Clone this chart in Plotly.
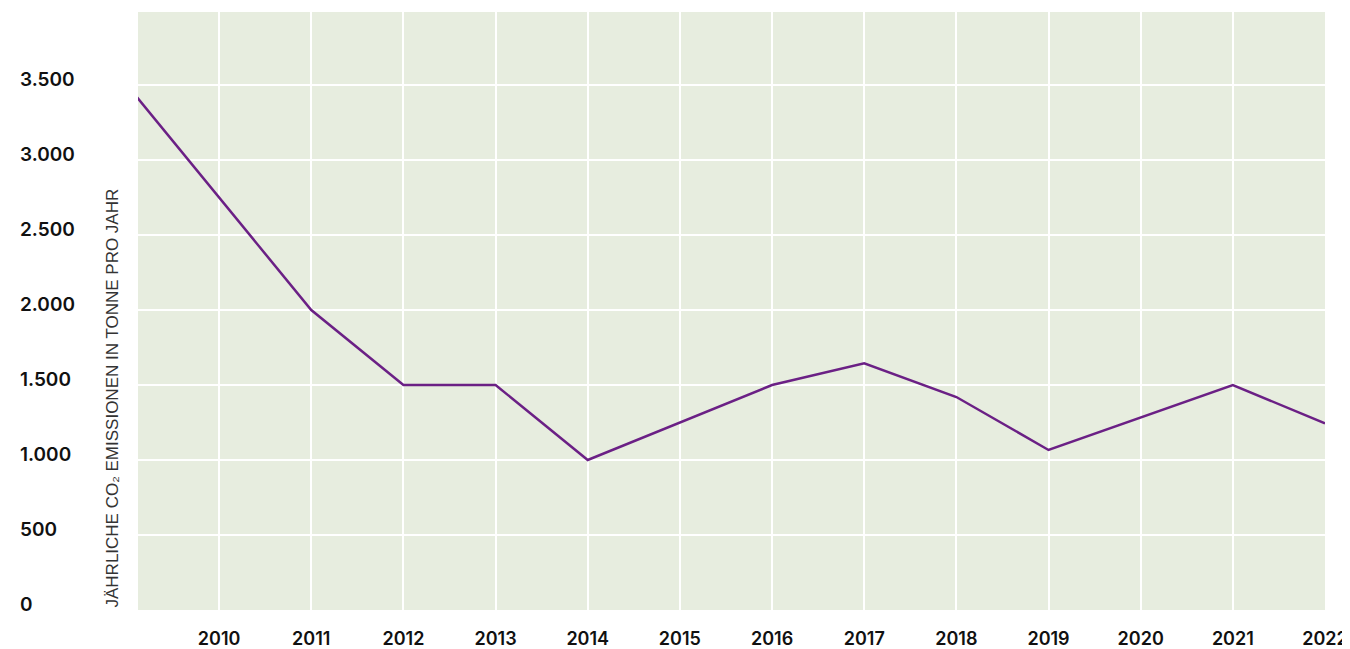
import plotly.graph_objects as go

years = [2009, 2010, 2011, 2012, 2013, 2014, 2015, 2016, 2017, 2018, 2019, 2020, 2021, 2022]
emissions = [3500, 2750, 2000, 1500, 1500, 1000, 1250, 1500, 1645, 1420, 1067, 1285, 1500, 1244]
y_ticks = [0, 500, 1000, 1500, 2000, 2500, 3000, 3500]
y_tick_labels = ["0", "500", "1.000", "1.500", "2.000", "2.500", "3.000", "3.500"]
x_ticks = list(range(2010, 2023))
y_title = "JÄHRLICHE CO₂ EMISSIONEN IN TONNE PRO JAHR"

# the page body adds an 8px offset; figure sized to land the plot where the reference has it
W, H = 1342, 641
ml, mr, mt, mb = 2, 25, 4, 39
plot_left = 130
dom0 = (plot_left - ml) / (W - ml - mr)

fig = go.Figure()
fig.add_trace(go.Scatter(
    x=years, y=emissions, mode="lines",
    line=dict(color="#6B2085", width=2.5),
    hoverinfo="x+y", showlegend=False,
))

y_tick_font = dict(family="Inter, sans-serif", size=19, color="#111111", weight=600)
x_tick_font = dict(family="Inter, sans-serif", size=18, color="#111111", weight=600)

fig.update_layout(
    width=W, height=H,
    margin=dict(l=ml, r=mr, t=mt, b=mb, autoexpand=False),
    paper_bgcolor="white",
    plot_bgcolor="#E7EDDF",
    xaxis=dict(
        domain=[dom0, 1],
        range=[2009.12, 2022],
        tickvals=x_ticks,
        ticktext=[str(v) for v in x_ticks],
        showgrid=True, gridcolor="white", gridwidth=1.5,
        zeroline=False, showline=False,
        ticks="", ticklabelstandoff=16,
        tickfont=x_tick_font, automargin=False,
    ),
    yaxis=dict(
        anchor="free", position=0, side="right",
        range=[0, 3987],
        tickvals=y_ticks,
        ticktext=y_tick_labels,
        ticklabelposition="outside",
        ticklabelshift=-6,
        ticklabelstandoff=9,
        showgrid=True, gridcolor="white", gridwidth=1.5,
        zeroline=False, showline=False, ticks="",
        tickfont=y_tick_font, automargin=False,
    ),
    annotations=[dict(
        text=y_title, textangle=-90,
        xref="paper", yref="paper",
        x=(104 - ml) / (W - ml - mr), y=0,
        xanchor="center", yanchor="bottom",
        showarrow=False,
        font=dict(family="Liberation Sans, Arial, sans-serif", size=17, color="#333333"),
    )],
)

fig.write_html("out.html")
